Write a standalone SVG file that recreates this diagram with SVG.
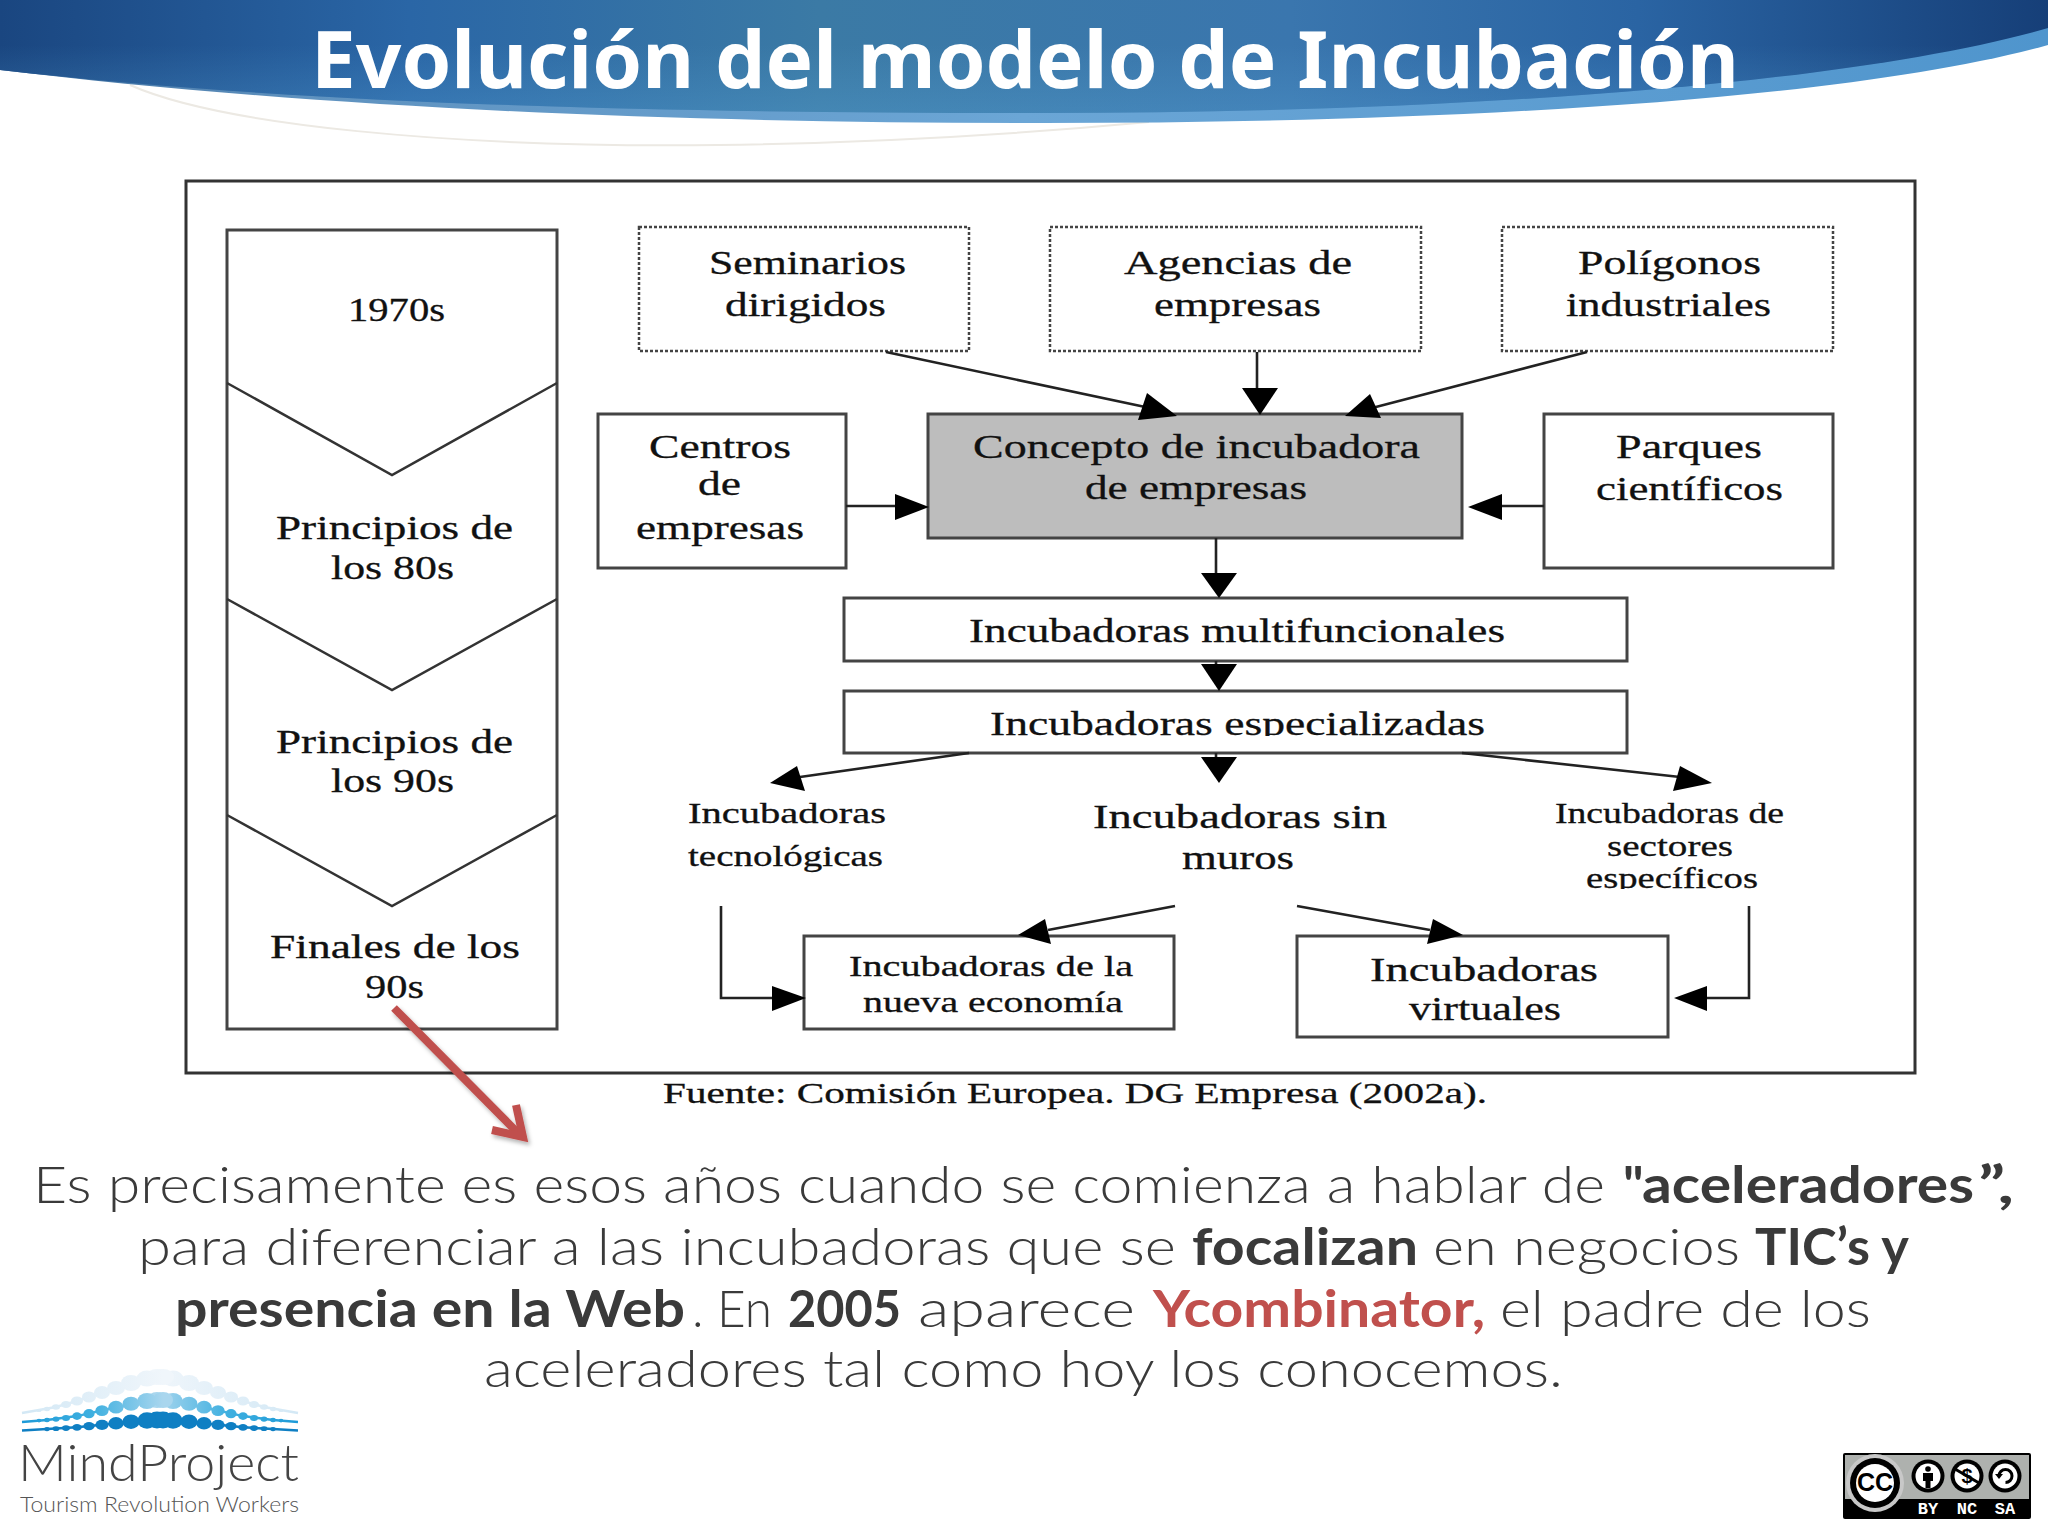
<svg xmlns="http://www.w3.org/2000/svg" xmlns:xlink="http://www.w3.org/1999/xlink" width="2048" height="1536" viewBox="0 0 2048 1536">
<defs>
<style>
.box{fill:#fff;stroke:#444;stroke-width:3}
.dot{fill:#fff;stroke:#444;stroke-width:2.5;stroke-dasharray:3 2}
.chev{fill:none;stroke:#333;stroke-width:2.5}
.ln{fill:none;stroke:#222;stroke-width:2.6}
.hd{fill:#000}
.t{font-family:"Liberation Serif","Times New Roman",serif;font-size:33px;fill:#111;stroke:#111;stroke-width:.3;transform:translateY(1px)}
.s{font-size:29px}
.b{font-family:Lato,"Noto Sans",sans-serif;font-size:52px;font-weight:300;fill:#3a3a3a}
.bb{font-weight:700}
.lbl{font-family:"Liberation Mono",monospace;font-size:17px;font-weight:700;fill:#fff;text-anchor:middle}
.lt{fill:none;stroke-width:2.5}
</style>
<linearGradient id="hdr" x1="0" y1="0" x2="2048" y2="0" gradientUnits="userSpaceOnUse">
<stop offset="0" stop-color="#1a4680"/><stop offset="0.2" stop-color="#2a66a6"/><stop offset="0.4" stop-color="#3b7aa5"/><stop offset="0.63" stop-color="#3a76ae"/><stop offset="0.8" stop-color="#2a64a3"/><stop offset="1" stop-color="#163f78"/>
</linearGradient>
<linearGradient id="shade" x1="0" y1="0" x2="0" y2="1">
<stop offset="0.4" stop-color="#5aa6d8" stop-opacity="0"/><stop offset="1" stop-color="#5aa6d8" stop-opacity="0.3"/>
</linearGradient>
<linearGradient id="band" x1="0" y1="0" x2="2048" y2="0" gradientUnits="userSpaceOnUse">
<stop offset="0" stop-color="#3f6f9f"/><stop offset="0.15" stop-color="#5f92bf"/><stop offset="0.5" stop-color="#6ba6d6"/><stop offset="1" stop-color="#4f95cd"/>
</linearGradient>
<linearGradient id="r2" x1="157" y1="0" x2="297" y2="0" gradientUnits="userSpaceOnUse">
<stop offset="0" stop-color="#a9d6ee"/><stop offset="0.5" stop-color="#3fb0e0"/><stop offset="1" stop-color="#1d9ad8"/>
</linearGradient>
<linearGradient id="r1" x1="157" y1="0" x2="297" y2="0" gradientUnits="userSpaceOnUse">
<stop offset="0" stop-color="#f0f6fb"/><stop offset="1" stop-color="#d3e8f5"/>
</linearGradient>
<filter id="sh" x="-30%" y="-30%" width="160%" height="160%"><feDropShadow dx="2" dy="3" stdDeviation="2" flood-color="#000" flood-opacity="0.3"/></filter>
<clipPath id="c1"><rect x="900" y="700" width="700" height="35"/></clipPath>
<clipPath id="c2"><rect x="1500" y="860" width="300" height="28"/></clipPath>
</defs>
<rect width="2048" height="1536" fill="#fff"/>
<g id="header">
<path d="M130,85 C220,125 450,148 718,145 C860,143 1010,135 1149,122" fill="none" stroke="#ece9e3" stroke-width="2"/>
<path d="M0,70 C300,106 650,123 1044,123 C1450,123 1850,100 2048,45 V20 H0 Z" fill="url(#band)"/>
<path d="M0,0 H2048 V28 C1850,85 1450,113 1044,113 C650,113 300,104 0,70 Z" fill="url(#hdr)"/>
<path d="M0,0 H2048 V28 C1850,85 1450,113 1044,113 C650,113 300,104 0,70 Z" fill="url(#shade)"/>
<text x="311" y="88" font-family="'Noto Sans',sans-serif" font-size="78" font-weight="700" fill="#fff" textLength="1428" lengthAdjust="spacingAndGlyphs">Evolución del modelo de Incubación</text>
</g>
<rect id="frame" x="186" y="181" width="1729" height="892" fill="#fff" stroke="#333" stroke-width="3"/>
<g id="timeline">
<rect class="box" x="227" y="230" width="330" height="799"/>
<polyline class="chev" points="227,383 392,475 557,383"/>
<polyline class="chev" points="227,599 392,690 557,599"/>
<polyline class="chev" points="227,815 392,906 557,815"/>
<text class="t" x="348" y="320" textLength="97" lengthAdjust="spacingAndGlyphs">1970s</text>
<text class="t" x="276" y="538" textLength="237" lengthAdjust="spacingAndGlyphs">Principios de</text>
<text class="t" x="331" y="578" textLength="123" lengthAdjust="spacingAndGlyphs">los 80s</text>
<text class="t" x="276" y="752" textLength="237" lengthAdjust="spacingAndGlyphs">Principios de</text>
<text class="t" x="331" y="791" textLength="123" lengthAdjust="spacingAndGlyphs">los 90s</text>
<text class="t" x="270" y="957" textLength="250" lengthAdjust="spacingAndGlyphs">Finales de los</text>
<text class="t" x="365" y="997" textLength="59" lengthAdjust="spacingAndGlyphs">90s</text>
</g>
<g id="seminarios"><rect class="dot" x="639" y="227" width="330" height="124"/>
<text class="t" x="709" y="273" textLength="197" lengthAdjust="spacingAndGlyphs">Seminarios</text>
<text class="t" x="725" y="315" textLength="161" lengthAdjust="spacingAndGlyphs">dirigidos</text></g>
<g id="agencias"><rect class="dot" x="1050" y="227" width="371" height="124"/>
<text class="t" x="1124" y="273" textLength="228" lengthAdjust="spacingAndGlyphs">Agencias de</text>
<text class="t" x="1154" y="315" textLength="167" lengthAdjust="spacingAndGlyphs">empresas</text></g>
<g id="poligonos"><rect class="dot" x="1502" y="227" width="331" height="124"/>
<text class="t" x="1578" y="273" textLength="183" lengthAdjust="spacingAndGlyphs">Polígonos</text>
<text class="t" x="1566" y="315" textLength="205" lengthAdjust="spacingAndGlyphs">industriales</text></g>
<g id="centros"><rect class="box" x="598" y="414" width="248" height="154"/>
<text class="t" x="649" y="457" textLength="142" lengthAdjust="spacingAndGlyphs">Centros</text>
<text class="t" x="698" y="494" textLength="43" lengthAdjust="spacingAndGlyphs">de</text>
<text class="t" x="636" y="538" textLength="168" lengthAdjust="spacingAndGlyphs">empresas</text></g>
<g id="concepto"><rect class="box" style="fill:#bdbdbd" x="928" y="414" width="534" height="124"/>
<text class="t" x="973" y="457" textLength="447" lengthAdjust="spacingAndGlyphs">Concepto de incubadora</text>
<text class="t" x="1085" y="498" textLength="222" lengthAdjust="spacingAndGlyphs">de empresas</text></g>
<g id="parques"><rect class="box" x="1544" y="414" width="289" height="154"/>
<text class="t" x="1616" y="457" textLength="146" lengthAdjust="spacingAndGlyphs">Parques</text>
<text class="t" x="1596" y="499" textLength="187" lengthAdjust="spacingAndGlyphs">científicos</text></g>
<g id="multifuncionales"><rect class="box" x="844" y="598" width="783" height="63"/>
<text class="t" x="969" y="641" textLength="536" lengthAdjust="spacingAndGlyphs">Incubadoras multifuncionales</text></g>
<g id="especializadas"><rect class="box" x="844" y="691" width="783" height="62"/>
<text class="t" x="990" y="734" textLength="495" lengthAdjust="spacingAndGlyphs" clip-path="url(#c1)">Incubadoras especializadas</text></g>
<g id="tecnologicas">
<text class="t s" x="688" y="822" textLength="198" lengthAdjust="spacingAndGlyphs">Incubadoras</text>
<text class="t s" x="688" y="865" textLength="195" lengthAdjust="spacingAndGlyphs">tecnológicas</text></g>
<g id="sinmuros">
<text class="t" x="1093" y="827" textLength="294" lengthAdjust="spacingAndGlyphs">Incubadoras sin</text>
<text class="t" x="1182" y="868" textLength="112" lengthAdjust="spacingAndGlyphs">muros</text></g>
<g id="sectores">
<text class="t s" x="1555" y="822" textLength="229" lengthAdjust="spacingAndGlyphs">Incubadoras de</text>
<text class="t s" x="1607" y="855" textLength="126" lengthAdjust="spacingAndGlyphs">sectores</text>
<text class="t s" x="1586" y="887" textLength="172" lengthAdjust="spacingAndGlyphs" clip-path="url(#c2)">específicos</text></g>
<g id="nuevaeconomia"><rect class="box" x="804" y="936" width="370" height="93"/>
<text class="t s" x="849" y="975" textLength="284" lengthAdjust="spacingAndGlyphs">Incubadoras de la</text>
<text class="t s" x="863" y="1011" textLength="260" lengthAdjust="spacingAndGlyphs">nueva economía</text></g>
<g id="virtuales"><rect class="box" x="1297" y="936" width="371" height="101"/>
<text class="t" x="1370" y="980" textLength="228" lengthAdjust="spacingAndGlyphs">Incubadoras</text>
<text class="t" x="1409" y="1019" textLength="152" lengthAdjust="spacingAndGlyphs">virtuales</text></g>
<text class="t s" x="663" y="1102" textLength="824" lengthAdjust="spacingAndGlyphs">Fuente: Comisión Europea. DG Empresa (2002a).</text>
<g id="connectors">
<line class="ln" x1="886" y1="352" x2="1150" y2="408"/><polygon class="hd" points="1177,416 1147,393 1138,420"/>
<line class="ln" x1="1257" y1="352" x2="1257" y2="390"/><polygon class="hd" points="1260,415 1242,388 1278,388"/>
<line class="ln" x1="1587" y1="352" x2="1372" y2="408"/><polygon class="hd" points="1345,416 1370,394 1381,418"/>
<line class="ln" x1="846" y1="506" x2="897" y2="506"/><polygon class="hd" points="929,507 895,494 895,520"/>
<line class="ln" x1="1544" y1="506" x2="1500" y2="506"/><polygon class="hd" points="1468,507 1502,494 1502,520"/>
<line class="ln" x1="1216" y1="538" x2="1216" y2="575"/><polygon class="hd" points="1219,598 1201,573 1237,573"/>
<line class="ln" x1="1216" y1="661" x2="1216" y2="666"/><polygon class="hd" points="1219,691 1201,664 1237,664"/>
<line class="ln" x1="1216" y1="753" x2="1216" y2="759"/><polygon class="hd" points="1219,783 1201,757 1237,757"/>
<line class="ln" x1="969" y1="753" x2="800" y2="777"/><polygon class="hd" points="770,783 797,766 805,791"/>
<line class="ln" x1="1462" y1="753" x2="1680" y2="777"/><polygon class="hd" points="1712,783 1680,766 1673,791"/>
<polyline class="ln" points="721,906 721,998 774,998"/><polygon class="hd" points="806,998 772,986 772,1011"/>
<line class="ln" x1="1175" y1="906" x2="1048" y2="930"/><polygon class="hd" points="1018,935 1045,919 1051,944"/>
<line class="ln" x1="1297" y1="906" x2="1430" y2="930"/><polygon class="hd" points="1463,935 1433,919 1427,944"/>
<polyline class="ln" points="1749,906 1749,998 1705,998"/><polygon class="hd" points="1674,998 1707,986 1707,1011"/>
</g>
<g id="redarrow" filter="url(#sh)" fill="none" stroke="#c0504d" stroke-width="8">
<line x1="394" y1="1008" x2="521" y2="1136"/>
<polyline points="516,1105 523,1137 492,1130"/>
</g>
<g id="body">
<text class="b" x="33" y="1203" textLength="1572" lengthAdjust="spacingAndGlyphs">Es precisamente es esos años cuando se comienza a hablar de</text>
<text class="b bb" x="1623" y="1203">"</text>
<text class="b bb" x="1642" y="1203" textLength="332" lengthAdjust="spacingAndGlyphs">aceleradores</text>
<text class="b bb" x="1978" y="1203" textLength="36" lengthAdjust="spacingAndGlyphs">”,</text>
<text class="b" x="138" y="1265" textLength="1038" lengthAdjust="spacingAndGlyphs">para diferenciar a las incubadoras que se</text>
<text class="b bb" x="1192" y="1265" textLength="226" lengthAdjust="spacingAndGlyphs">focalizan</text>
<text class="b" x="1433" y="1265" textLength="307" lengthAdjust="spacingAndGlyphs">en negocios</text>
<text class="b bb" x="1755" y="1265" textLength="154" lengthAdjust="spacingAndGlyphs">TIC’s y</text>
<text class="b bb" x="175" y="1327" textLength="510" lengthAdjust="spacingAndGlyphs">presencia en la Web</text>
<text class="b" x="692" y="1327" textLength="80" lengthAdjust="spacingAndGlyphs">. En</text>
<text class="b bb" x="788" y="1327" textLength="113" lengthAdjust="spacingAndGlyphs">2005</text>
<text class="b" x="918" y="1327" textLength="217" lengthAdjust="spacingAndGlyphs">aparece</text>
<text class="b bb" x="1153" y="1327" textLength="332" lengthAdjust="spacingAndGlyphs" style="fill:#c0504d">Ycombinator,</text>
<text class="b" x="1500" y="1327" textLength="371" lengthAdjust="spacingAndGlyphs">el padre de los</text>
<text class="b" x="484" y="1387" textLength="1079" lengthAdjust="spacingAndGlyphs">aceleradores tal como hoy los conocemos.</text>
</g>
<g id="logo">
<g id="lr1" fill="url(#r1)">
<polyline class="lt" stroke="url(#r1)" points="157,1377 189,1383 218,1392 243,1401 264,1407 281,1410 298,1413"/>
<ellipse cx="157" cy="1377" rx="11" ry="8"/><ellipse cx="173" cy="1378.6" rx="10.5" ry="8"/><ellipse cx="189" cy="1383" rx="10" ry="8"/><ellipse cx="204" cy="1388" rx="9" ry="7"/><ellipse cx="218" cy="1392.5" rx="8" ry="6.5"/><ellipse cx="231" cy="1397" rx="7" ry="5.5"/><ellipse cx="243" cy="1401" rx="6" ry="4.5"/><ellipse cx="254" cy="1404.5" rx="5" ry="3.6"/><ellipse cx="264" cy="1407" rx="4" ry="2.8"/><ellipse cx="273" cy="1409" rx="3" ry="2.2"/><ellipse cx="281" cy="1410.5" rx="2.6" ry="1.6"/>
</g>
<use href="#lr1" xlink:href="#lr1" transform="translate(320,0) scale(-1,1)"/>
<g id="lr2" fill="url(#r2)">
<polyline class="lt" stroke="url(#r2)" points="157,1400 204,1407.2 243,1416.1 273,1420 298,1422"/>
<ellipse cx="157" cy="1400" rx="10" ry="8"/><ellipse cx="173" cy="1401" rx="9.6" ry="8"/><ellipse cx="189" cy="1403.7" rx="8.5" ry="7"/><ellipse cx="204" cy="1407.2" rx="7.6" ry="6.4"/><ellipse cx="218" cy="1410.6" rx="6.6" ry="5.4"/><ellipse cx="231" cy="1413.7" rx="5.6" ry="4.6"/><ellipse cx="243" cy="1416.1" rx="4.8" ry="3.8"/><ellipse cx="254" cy="1417.9" rx="4" ry="3"/><ellipse cx="264" cy="1419.1" rx="3.4" ry="2.6"/><ellipse cx="273" cy="1420" rx="2.8" ry="2.2"/><ellipse cx="281" cy="1420.6" rx="2.4" ry="1.8"/>
</g>
<use href="#lr2" xlink:href="#lr2" transform="translate(320,0) scale(-1,1)"/>
<g id="lr3" fill="#0f7fc3">
<polyline class="lt" stroke="#0f7fc3" points="157,1420 204,1423.3 243,1427.3 273,1429.1 298,1430.5"/>
<ellipse cx="157" cy="1420" rx="10" ry="8.5"/><ellipse cx="173" cy="1420.5" rx="9.6" ry="8.2"/><ellipse cx="189" cy="1421.7" rx="8.5" ry="7.3"/><ellipse cx="204" cy="1423.3" rx="7.6" ry="6.2"/><ellipse cx="218" cy="1424.8" rx="6.6" ry="5.1"/><ellipse cx="231" cy="1426.2" rx="5.6" ry="4.1"/><ellipse cx="243" cy="1427.3" rx="4.8" ry="3.4"/><ellipse cx="254" cy="1428.1" rx="4" ry="2.8"/><ellipse cx="264" cy="1428.7" rx="3.4" ry="2.4"/><ellipse cx="273" cy="1429.1" rx="2.8" ry="2.1"/>
</g>
<use href="#lr3" xlink:href="#lr3" transform="translate(320,0) scale(-1,1)"/>
<text x="18" y="1481" font-family="Lato,'Noto Sans',sans-serif" font-size="52" font-weight="300" fill="#444" textLength="281" lengthAdjust="spacingAndGlyphs">MindProject</text>
<text x="20" y="1512" font-family="Lato,'Noto Sans',sans-serif" font-size="21" font-weight="300" fill="#555" textLength="279" lengthAdjust="spacingAndGlyphs">Tourism Revolution Workers</text>
</g>
<g id="ccbadge">
<rect x="1843" y="1453" width="188" height="66" rx="2" fill="#000"/>
<rect x="1845" y="1455" width="184" height="44" fill="#aeb1ae"/>
<circle cx="1875" cy="1483" r="29" fill="#c8c8c8"/>
<circle cx="1875" cy="1483" r="25" fill="#000"/>
<circle cx="1875" cy="1483" r="19" fill="#fff"/>
<text x="1875" y="1491" font-family="'Liberation Sans',sans-serif" font-size="25" font-weight="700" text-anchor="middle" fill="#000">CC</text>
<circle cx="1928" cy="1476" r="16.5" fill="#000"/><circle cx="1928" cy="1476" r="12.5" fill="#fff"/>
<circle cx="1928" cy="1469" r="2.8" fill="#000"/><path d="M1923,1473 h10 v8 h-2.5 v7 h-5 v-7 h-2.5 z" fill="#000"/>
<circle cx="1967" cy="1476" r="16.5" fill="#000"/><circle cx="1967" cy="1476" r="12.5" fill="#fff"/>
<text x="1967" y="1483" font-family="'Liberation Sans',sans-serif" font-size="20" font-weight="700" text-anchor="middle" fill="#000">$</text>
<line x1="1955" y1="1469" x2="1979" y2="1483" stroke="#000" stroke-width="3"/>
<circle cx="2005" cy="1476" r="16.5" fill="#000"/><circle cx="2005" cy="1476" r="12.5" fill="#fff"/>
<path d="M1999,1476 a6.5,6.5 0 1 1 6.5,6.5" fill="none" stroke="#000" stroke-width="3"/><polygon points="1995,1474 2003,1474 1999,1479" fill="#000"/>
<text class="lbl" x="1928" y="1514">BY</text><text class="lbl" x="1967" y="1514">NC</text><text class="lbl" x="2005" y="1514">SA</text>
</g>
</svg>
